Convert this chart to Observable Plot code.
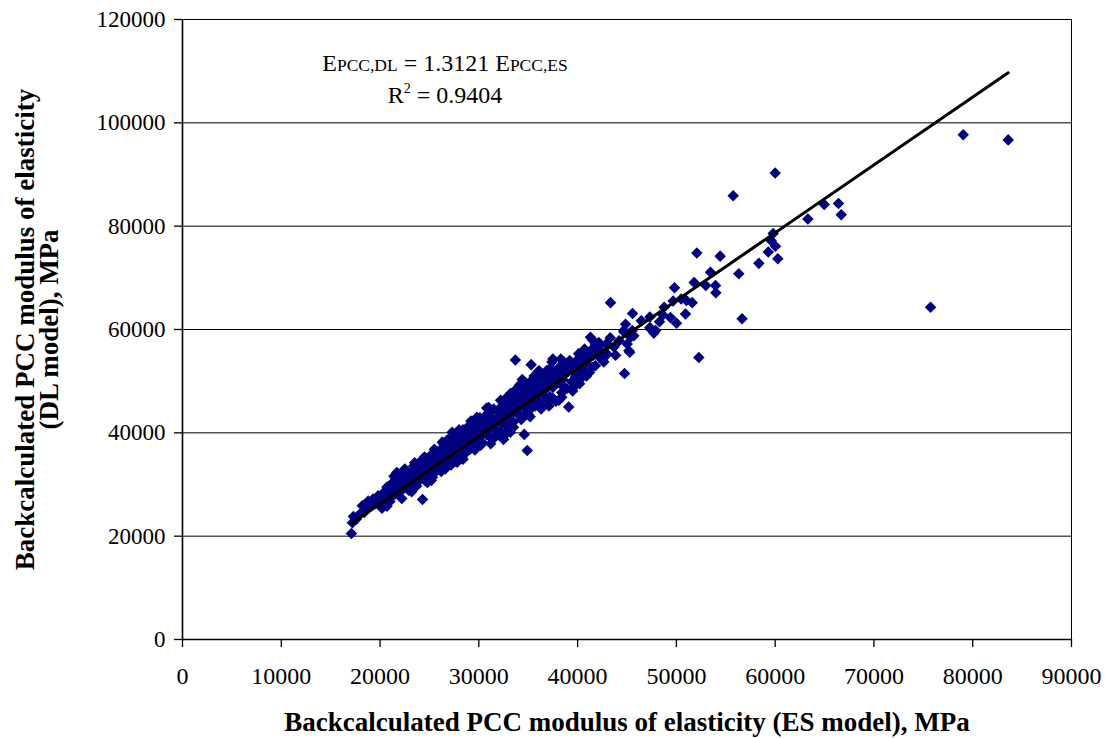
<!DOCTYPE html>
<html>
<head>
<meta charset="utf-8">
<script src="https://cdn.jsdelivr.net/npm/d3@7"></script>
<script src="https://cdn.jsdelivr.net/npm/@observablehq/plot@0.6"></script>
<style>
  html, body { margin: 0; padding: 0; background: #fff; }
  #chart { width: 1112px; height: 738px; }
</style>
</head>
<body>
<div id="chart"></div>
<script>
// Axis ticks
const xTicks = [0, 10000, 20000, 30000, 40000, 50000, 60000, 70000, 80000, 90000];
const yTicks = [0, 20000, 40000, 60000, 80000, 100000, 120000];

// Regression (through origin) as reported in the chart
const slope = 1.3121;
const rSquared = 0.9404;

// [E_PCC,ES (MPa), E_PCC,DL (MPa)]
const clusterLow = [
  [17100,20500],[17300,23800],[17200,22600],[17600,23300],[17900,24200],[18200,25900],[18500,25200],[18800,26800],[18400,24600],[19000,25800],[19300,27200],[19600,26400],[19800,27800],
  [20100,26600],[20300,28300],[20500,27100],[20700,25800],[20900,27900],[20200,25400],[20600,28800],[21000,26700],[21200,30200],[21400,31600],[21500,28100],[21700,32300],[21800,29400],[21100,27600],[21600,30700],[21900,28600],
  [22000,31900],[22100,28700],[22300,30500],[22400,32300],[22600,29600],[22700,31200],[22900,28900],[22200,27300],[22500,33000],[22800,30400],[23000,32100],[23100,29800],[23300,31300],[23400,33600],[23600,30800],[23800,32600],[23200,28600],[23500,34200],[23700,29700],[23900,31800],
  [24000,33100],[24100,31000],[24300,27100],[24200,34700],[24400,32400],[24600,30700],[24700,33800],[24900,31900],[24500,35300],[24800,34100],[25000,32700],[25100,35600],[25300,31400],[25400,34300],[25600,33300],[25800,36200],[25200,30800],[25500,36800],[25700,32600],[25900,34900],[24300,33900]
];
const clusterMid = [
  [26000,34100],[26100,36600],[26200,32500],[26400,35400],[26500,37700],[26700,33900],[26800,36100],[26300,38200],[26600,34800],[26900,37000],[27000,35600],[27100,38900],[27200,33800],[27400,36400],[27500,39600],[27700,35200],[27800,37800],[27300,40100],[27600,34500],[27900,38500],[26200,35300],[27000,36800],
  [28000,36700],[28100,39300],[28300,38100],[28400,40600],[28500,35800],[28700,37900],[28800,41000],[28200,37200],[28600,39800],[28900,38600],[29000,40300],[29100,36800],[29300,39100],[29400,41800],[29500,37700],[29700,40200],[29800,38700],[29200,42300],[29600,39500],[29900,41200],[28300,35300],[29100,38300],
  [30000,39100],[30100,41600],[30300,38200],[30400,42700],[30500,40100],[30700,43400],[30800,39600],[30200,37600],[30600,41300],[30900,42200],[31000,40700],[31100,43900],[31300,38900],[31400,41900],[31500,44600],[31700,40400],[31800,42800],[31200,37900],[31600,41700],[31900,44200],[30400,40500],[31200,42300],[30800,44800],
  [32000,42400],[32100,40300],[32300,44700],[32400,41800],[32500,45800],[32700,43300],[32800,39900],[32200,46300],[32600,42900],[32900,44400],[33000,41300],[33100,45200],[33300,43600],[33400,47200],[33500,42100],[33700,44900],[33800,46600],[33200,40100],[33600,48100],[33900,43700],[32500,38700],[33200,47600],
  [34000,44700],[34100,47400],[34300,42600],[34400,48800],[34500,45900],[34700,43800],[34800,47100],[34200,46200],[34600,49600],[34900,44600],[35000,48300],[35100,46100],[35300,50100],[35400,44900],[35500,47700],[35700,49200],[35800,46400],[35200,43100],[35600,51000],[35900,48200],[33700,54100],[34600,39700],[34900,36600],[34400,50300],[35300,53200]
];
const clusterFill = [
  [20400,27000],[20800,27600],[21300,28600],[21600,29200],[21900,29900],[22200,29400],[22400,30100],[22700,30400],[23000,30600],[23300,32000],[23500,31900],[23800,31200],[24100,32300],[24400,33000],[24600,32400],[24900,33400],[25200,33600],[25500,34000],[25700,34500],[25900,33500],
  [26200,34400],[26500,35500],[26700,35100],[26900,36000],[27100,36300],[27400,37100],[27600,36800],[27900,37400],[28200,37800],[28500,38200],[28700,38800],[28900,39300],[29200,39000],[29400,39700],[29700,39400],[29900,40200],
  [30200,40600],[30500,41000],[30700,40500],[31000,41500],[31300,42000],[31500,41400],[31800,42400],[32100,43000],[32400,43500],[32600,44300],[32900,43100],[33100,44000],[33400,44700],[33700,45400],[33900,45000],
  [34200,45600],[34500,46300],[34700,46800],[35000,47000],[35300,47500],[35600,48000],[35800,47300],[36100,48500],[36400,49100],[36700,49600],[37000,50000],[37300,50400],[37700,51300],[38000,51000],[38300,51900],[38700,52400],[39000,52700],[39400,53100],[39800,53800],
  [40200,53200],[40600,54200],[41000,55000],[41400,56100],[41900,56400],
  [20700,29500],[21300,30400],[22000,30300],[22600,32700],[23600,33100],[24600,35100],[25300,35400],[26300,37100],[27200,38700],[28100,39900],[29000,41200],[30100,42900],[31200,43100],[32300,45100],[33300,46100],[34300,47900],[35400,49500],[36300,50200],[37200,51300],[38500,49000],[39800,51400],
  [24800,30400],[26600,33000],[28400,34900],[30200,38100],[32100,39500],[33500,41100],[36300,44600],[35700,45200],
  [26800,38600],[28000,40600],[29800,43000],[31000,44900],[32800,46800],[34100,49200],[36000,51800],[38600,53700],[40700,56200],
  [27800,34300],[29600,36700],[31500,38900],[33000,40700],[35000,43500],[37500,46700],[39700,49000],[41800,53000]
];
const clusterHigh = [
  [36000,47300],[36200,49800],[36300,45400],[36500,51200],[36700,48300],[36800,46600],[36100,52000],[36400,47900],[36600,50400],[36900,49100],[37000,51500],[37200,47000],[37300,52600],[37500,48800],[37700,50700],[37800,46100],[37100,45200],[37400,53700],[37600,49500],[37900,51900],[36900,52100],[37500,54300],
  [38000,49700],[38200,52800],[38400,47800],[38600,51200],[38800,53200],[38100,46300],[38500,50300],[38900,48600],[39000,51800],[39200,54000],[39400,49900],[39600,52700],[39800,50900],[39100,53600],[39500,48100],[38300,54300],[38400,46900],[39100,45000],
  [40000,52300],[40300,54800],[40500,50800],[40800,53500],[40100,55300],[40600,52100],[40900,51000],[41100,54300],[41300,55700],[41500,52700],[41800,57200],[41200,51700],[41600,55000],[40300,50700],[41500,58000],[41300,58500],[40200,49500],
  [42050,56700],[42150,57500],[42650,53700],[42930,57300],[43000,55200],[43000,56900],[43670,56600],[43840,55000],[44680,59800],[44680,59500],[44850,61000],[45020,57200],[45190,55900],[45280,55600],[45360,58500],[45530,59800],[45690,58800],[42300,55900],[42600,54600],[43300,58400],[44200,57800],[42100,54800]
];
const upperTail = [
  [45560,63100],[46440,61700],[47310,62400],[47310,60400],[47380,60100],[47720,59300],[47890,59800],[48290,61500],[48630,62800],[48760,64300],[49400,62300],[49670,65500],[49810,68100],[50010,61200],[50480,65900],[50920,63000],[51020,65600],[51600,65200],[51800,69100],[52070,74800],[52980,68500],[53450,71100],[53960,68500],[53990,67100],[54430,74200],[56320,70800],
  [58350,72800],[59300,75000],[59600,77200],[59800,78600],[60030,76100],[60270,73700],[63310,81400],[64970,84200],[66410,84400],[66690,82200]
];
const outliers = [
  [43330,65200],[44750,51500],[52270,54600],[55750,85900],[56650,62100],[60000,90300],[75730,64300],[79040,97700],[83590,96700]
];

const points = [...clusterLow, ...clusterMid, ...clusterFill, ...clusterHigh, ...upperTail, ...outliers];
const xExtent = d3.extent(points, d => d[0]);
const trend = xExtent.map(x => ({x, y: slope * x}));

const font = "'Liberation Serif', 'Times New Roman', serif";

const chart = Plot.plot({
  width: 1112,
  height: 738,
  marginLeft: 182,
  marginRight: 41,
  marginTop: 19,
  marginBottom: 99,
  style: {fontFamily: font, background: "#fff", color: "#000"},
  x: {domain: [0, 90000]},
  y: {domain: [0, 120000]},
  marks: [
    Plot.gridY(yTicks, {stroke: "#000", strokeOpacity: 1, strokeWidth: 1}),
    Plot.ruleX([90000], {stroke: "#000", strokeWidth: 1}),
    Plot.ruleX([0], {stroke: "#000", strokeWidth: 1.6}),
    Plot.ruleY([0], {stroke: "#000", strokeWidth: 1.6}),
    Plot.axisX(xTicks, {tickSize: 8, tickPadding: 19, fontSize: 24, tickFormat: d3.format("d"), label: null, strokeWidth: 1.3}),
    Plot.axisY(yTicks, {tickSize: 8, tickPadding: 9, fontSize: 23, tickFormat: d3.format("d"), label: null, strokeWidth: 1.3}),
    Plot.dot(points, {x: d => d[0], y: d => d[1], symbol: "diamond2", r: 5.2, fill: "#000080"}),
    Plot.line(trend, {x: "x", y: "y", stroke: "#000", strokeWidth: 3}),
    Plot.text(["Backcalculated PCC modulus of elasticity (ES model), MPa"], {frameAnchor: "bottom", textAnchor: "middle", dy: 83, fontSize: 27, fontWeight: "bold", lineAnchor: "middle"}),
    Plot.text(["Backcalculated PCC modulus of elasticity\n(DL model), MPa"], {frameAnchor: "left", textAnchor: "middle", dx: -144, rotate: -90, fontSize: 27, fontWeight: "bold", lineHeight: 0.9, lineAnchor: "middle"})
  ]
});

document.getElementById("chart").appendChild(chart);

// Equation annotation with small caps and superscript
const svg = d3.select(chart);
const eq = svg.append("text")
  .attr("x", 445).attr("y", 71)
  .attr("text-anchor", "middle")
  .attr("font-family", font)
  .attr("font-size", 24)
  .attr("fill", "#000");
eq.append("tspan").text("E");
eq.append("tspan").attr("font-size", 17.5).text("PCC,DL");
eq.append("tspan").text(" = " + slope.toFixed(4) + " E");
eq.append("tspan").attr("font-size", 17.5).text("PCC,ES");

const r2 = svg.append("text")
  .attr("x", 445).attr("y", 103)
  .attr("text-anchor", "middle")
  .attr("font-family", font)
  .attr("font-size", 24)
  .attr("fill", "#000");
r2.append("tspan").text("R");
r2.append("tspan").attr("font-size", 14).attr("dy", -10).text("2");
r2.append("tspan").attr("dy", 10).text(" = " + rSquared.toFixed(4));
</script>
</body>
</html>
